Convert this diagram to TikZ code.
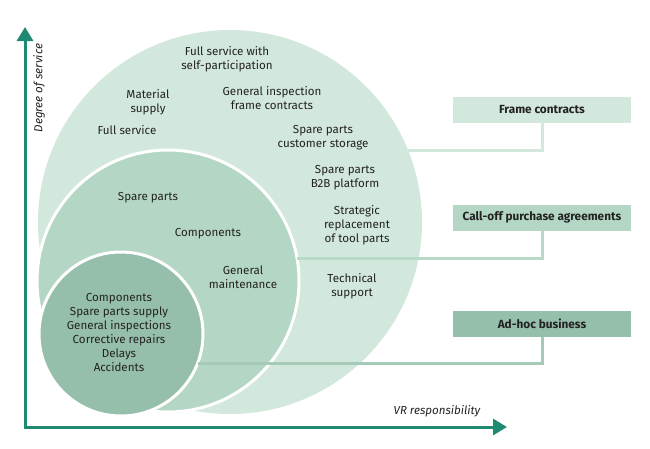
\documentclass[tikz,border=0pt]{standalone}
\usepackage{fontspec}
\setmainfont{Fira Sans}
\usetikzlibrary{arrows.meta}
\definecolor{axisgreen}{HTML}{1E8A72}
\definecolor{paleone}{HTML}{D3E8DC}
\definecolor{paletwo}{HTML}{B4D6C4}
\definecolor{palethree}{HTML}{96BFAB}
\definecolor{linktwo}{HTML}{B9D9C8}
\definecolor{linkthree}{HTML}{A6CAB8}
\definecolor{inkgray}{HTML}{222222}
\begin{document}
\begin{tikzpicture}[
x=1pt,y=-1pt,
every node/.style={font=\fontsize{11.6}{14}\selectfont,align=center,text=inkgray},
ring/.style={circle,inner sep=0pt,outer sep=0pt,draw=white,line width=3pt},
tagbox/.style={minimum width=178pt,minimum height=26pt,inner sep=0pt,font=\fontsize{11.8}{14}\selectfont\bfseries},
link/.style={line width=3pt},
axis/.style={draw=axisgreen,line width=3pt}
]
\useasboundingbox (0,0) rectangle (650,448);
% nested circles, cut at the bottom
\begin{scope}
\clip (0,0) rectangle (650,415);
\node[ring,draw=none,fill=paleone,minimum size=384pt] (big) at (230,222) {};
\node[ring,fill=paletwo,minimum size=262pt] (mid) at (168,281) {};
\node[ring,fill=palethree,minimum size=164pt] (small) at (121,334) {};
\end{scope}
% axes
\coordinate (o) at (25,427);
\coordinate (ytip) at (25,27);
\coordinate (xtip) at (507,427);
\draw[axis,{Triangle[length=14pt,width=16pt]}-{Triangle[length=14pt,width=16pt]}] (ytip) -- (o) -- (xtip);
\node[rotate=90,font=\fontsize{11.6}{14}\selectfont\itshape] (ylab) at (39,88) {Degree of service};
\node[font=\fontsize{11.6}{14}\selectfont\itshape] (xlab) at (437,411) {VR responsibility};
% contract boxes
\node[tagbox,fill=paleone] (frame) at (542,110) {Frame contracts};
\node[tagbox,fill=paletwo] (calloff) at (542,217.5) {Call-off purchase agreements};
\node[tagbox,fill=palethree] (adhoc) at (542,324) {Ad-hoc business};
\draw[link,paleone] (frame.south) |- (big.22);
\draw[link,linktwo] (calloff.south) |- (mid.10.5);
\draw[link,linkthree] (adhoc.south) |- (small.-21.5);
% outer circle
\node (fullself) at (227,59) {Full service with\\self-participation};
\node (material) at (148,102) {Material\\supply};
\node (geninsp) at (272,98) {General inspection\\frame contracts};
\node (fullserv) at (127,130) {Full service};
\node (custstore) at (323,138) {Spare parts\\customer storage};
\node (b2b) at (345,178) {Spare parts\\B2B platform};
\node (strategic) at (357,225) {Strategic\\replacement\\of tool parts};
\node (techsup) at (352,286) {Technical\\support};
% middle circle
\node (spare) at (148,198) {Spare parts};
\node (comp) at (208,234) {Components};
\node (genmaint) at (243,277) {General\\maintenance};
% inner circle
\node (adhoclist) at (119,332.5) {Components\\Spare parts supply\\General inspections\\Corrective repairs\\Delays\\Accidents};
\end{tikzpicture}
\end{document}
